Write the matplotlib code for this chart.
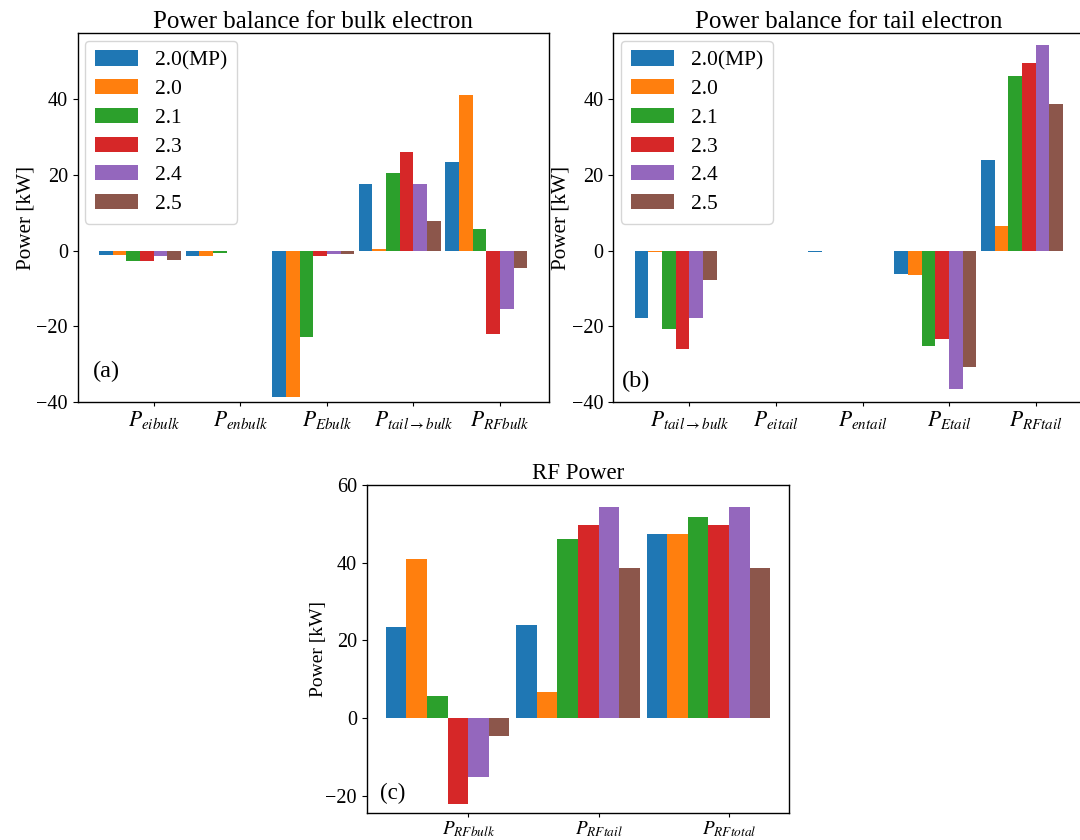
"""
功率平衡长条图:bulk / tail electron + RF Power 三张面板。
"""
import matplotlib
matplotlib.use("Agg")
import matplotlib.pyplot as plt
import numpy as np

plt.rcParams["font.family"] = ["Liberation Serif", "DejaVu Serif"]
plt.rcParams["mathtext.fontset"] = "stix"
plt.rcParams["font.size"] = 14.5

# ---- 资料(从图上读出来的值,单位 kW)---------------------------------------
series = ["2.0(MP)", "2.0", "2.1", "2.3", "2.4", "2.5"]
colors = ["#1f77b4", "#ff7f0e", "#2ca02c", "#d62728", "#9467bd", "#8c564b"]

bulk_labels = [r"$P_{eibulk}$", r"$P_{enbulk}$", r"$P_{Ebulk}$",
               r"$P_{tail\rightarrow bulk}$", r"$P_{RFbulk}$"]
bulk_mp = [-1.1, -1.4, -38.6, 17.7, 23.5]
bulk_20 = [-1.1, -1.4, -38.6, 0.3, 41.0]
bulk_21 = [-2.7, -0.7, -22.9, 20.6, 5.7]
bulk_23 = [-2.7, 0.0, -1.3, 26.1, -22.1]
bulk_24 = [-1.3, 0.0, -0.9, 17.7, -15.3]
bulk_25 = [-2.4, 0.0, -0.8, 7.8, -4.6]

tail_labels = [r"$P_{tail\rightarrow bulk}$", r"$P_{eitail}$", r"$P_{entail}$",
               r"$P_{Etail}$", r"$P_{RFtail}$"]
tail_mp = [-17.7, -0.05, -0.35, -6.1, 23.9]
tail_20 = [-0.3, -0.05, -0.1, -6.4, 6.6]
tail_21 = [-20.6, -0.05, -0.1, -25.3, 46.0]
tail_23 = [-26.1, -0.05, -0.15, -23.4, 49.6]
tail_24 = [-17.7, -0.05, -0.1, -36.6, 54.4]
tail_25 = [-7.8, -0.05, -0.1, -30.7, 38.6]

rf_labels = [r"$P_{RFbulk}$", r"$P_{RFtail}$", r"$P_{RFtotal}$"]
rf_mp = [23.5, 23.9, 47.4]
rf_20 = [41.0, 6.6, 47.4]
rf_21 = [5.7, 46.0, 51.7]
rf_23 = [-22.1, 49.6, 49.6]
rf_24 = [-15.3, 54.4, 54.4]
rf_25 = [-4.6, 38.6, 38.6]

W = 0.158   # 单根 bar 宽


def grouped(ax, labels, rows, title, tag, tag_xy, ylim, fs, legend=True):
    """一组 6 根 bar,tick 落在第 4 根左缘(照原图的摆法)。fs = 各面板字号(原图是拼出来的,比例不同)。"""
    x = np.arange(len(labels))
    for i, (vals, c, s) in enumerate(zip(rows, colors, series)):
        ax.bar(x + (i - 3.5) * W, vals, W, color=c, label=s)
    ax.set_xticks(x)
    ax.set_xticklabels(labels, fontsize=fs["xt"])
    ax.tick_params(axis="x", pad=2, length=3)
    ax.tick_params(axis="y", labelsize=14.5, length=3.5)
    ax.set_ylim(*ylim)
    ax.set_ylabel("Power [kW]", fontsize=fs["yl"], labelpad=fs["lp"])
    ax.set_title(title, fontsize=fs["title"], pad=4)
    ax.text(*tag_xy, tag, transform=ax.transAxes, fontsize=fs["tag"], ha="left", va="bottom")
    if legend:
        ax.legend(loc="upper left", fontsize=15.5, labelspacing=0.4,
                  borderaxespad=0.35, borderpad=0.45)
    for sp in ax.spines.values():
        sp.set_linewidth(1.0)


fs_ab = {"xt": 15.5, "yl": 15.2, "lp": 1, "title": 18, "tag": 17.5}
fs_c = {"xt": 13.8, "yl": 14, "lp": -1, "title": 16.5, "tag": 16.5}

fig = plt.figure(figsize=(10.8, 8.4), dpi=100)
ax_a = fig.add_axes([0.0719, 0.5214, 0.4362, 0.4390])
ax_b = fig.add_axes([0.5679, 0.5214, 0.4362, 0.4390])
ax_c = fig.add_axes([0.3395, 0.0325, 0.3914, 0.3901])

grouped(ax_a, bulk_labels, [bulk_mp, bulk_20, bulk_21, bulk_23, bulk_24, bulk_25],
        "Power balance for bulk electron", "(a)", (0.033, 0.055), (-40, 57.4), fs_ab)
grouped(ax_b, tail_labels, [tail_mp, tail_20, tail_21, tail_23, tail_24, tail_25],
        "Power balance for tail electron", "(b)", (0.018, 0.027), (-40, 57.4), fs_ab)
grouped(ax_c, rf_labels, [rf_mp, rf_20, rf_21, rf_23, rf_24, rf_25],
        "RF Power", "(c)", (0.032, 0.025), (-24.4, 60), fs_c, legend=False)
ax_c.set_yticks([-20, 0, 20, 40, 60])

fig.savefig("out.png", dpi=100)
